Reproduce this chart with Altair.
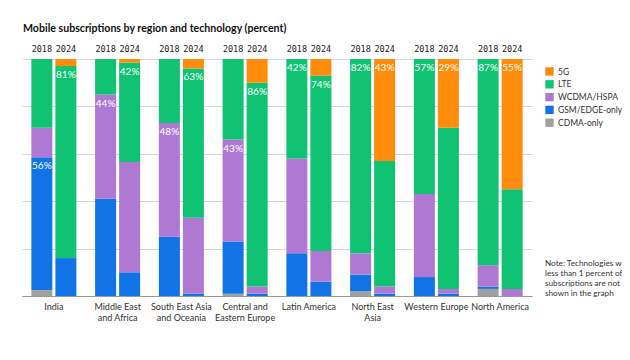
import altair as alt
import pandas as pd

title_text = "Mobile subscriptions by region and technology (percent)"
note_text = "Note: Technologies with\nless than 1 percent of\nsubscriptions are not\nshown in the graph"

regions = ["India", "Middle East\nand Africa", "South East Asia\nand Oceania",
           "Central and\nEastern Europe", "Latin America", "North East\nAsia",
           "Western Europe", "North America"]
years = ["2018", "2024"]

# stacked bottom -> top; one value per bar, ordered region by region (2018, 2024)
techs = ["CDMA-only", "GSM/EDGE-only", "WCDMA/HSPA", "LTE", "5G"]
cdma  = [2.5, 0,   0,  0,    0,  0,  1, 0,   0,  0,  2, 0,   0, 0,   3, 0]
gsm   = [56, 16,  41, 10,   25,  1, 22, 1,  18,  6,  7, 1,   8, 1,   1, 0]
wcdma = [12.5, 0, 44, 46.5, 48, 32, 43, 3,  40, 13,  9, 3,  35, 2,   9, 3]
lte   = [29, 81,  15, 42,   27, 63, 34, 86, 42, 74, 82, 53, 57, 68, 87, 42]
g5    = [0,  3,    0, 1.5,   0,  4,  0, 10,  0,  7,  0, 43,  0, 29,  0, 55]
label_tech = ["GSM/EDGE-only", "LTE", "WCDMA/HSPA", "LTE", "WCDMA/HSPA", "LTE",
              "WCDMA/HSPA", "LTE", "LTE", "LTE", "LTE", "5G", "LTE", "5G", "LTE", "5G"]

legend_order = ["5G", "LTE", "WCDMA/HSPA", "GSM/EDGE-only", "CDMA-only"]
legend_colors = ["#FF8C0A", "#0FC373", "#AF78D2", "#1174E6", "#A0A0A0"]

FONT = "Lato"

rows = []
for i, reg in enumerate(regions):
    for j, yr in enumerate(years):
        k = 2 * i + j
        base = 0.0
        for t, vals in zip(techs, [cdma, gsm, wcdma, lte, g5]):
            v = vals[k]
            if v > 0:
                rows.append(dict(region=reg, year=yr, tech=t, v0=base, v1=base + v,
                                 label=(f"{round(v)}%" if t == label_tech[k] else "")))
            base += v
df = pd.DataFrame(rows)
hdr = pd.DataFrame([dict(region=r, year=y) for r in regions for y in years])

xenc = alt.X("region:N", sort=regions,
             scale=alt.Scale(paddingInner=0.294, paddingOuter=0.147),
             axis=alt.Axis(title=None, ticks=False, tickSize=0, labelPadding=6,
                           labelAngle=0, labelFont=FONT, labelFontSize=9,
                           labelColor="#333333", labelLineHeight=11.5,
                           labelExpr="split(datum.label, '\\n')",
                           domainColor="#9a9a9a", domainWidth=1.2))
xoff = alt.XOffset("year:N", scale=alt.Scale(paddingInner=0.125, paddingOuter=0))

bars = alt.Chart(df).mark_bar().encode(
    x=xenc,
    xOffset=xoff,
    y=alt.Y("v0:Q", scale=alt.Scale(domain=[0, 100], nice=False),
            axis=alt.Axis(title=None, labels=False, ticks=False, domain=False,
                          values=[0, 20, 40, 60, 80, 100], gridColor="#d6d6d6",
                          gridWidth=1)),
    y2="v1:Q",
    color=alt.Color("tech:N",
                    scale=alt.Scale(domain=legend_order, range=legend_colors),
                    legend=alt.Legend(title=None, orient="none", legendX=523, legendY=8,
                                      symbolType="square", symbolSize=70,
                                      symbolStrokeWidth=0, labelFont=FONT,
                                      labelFontSize=8.5, labelColor="#333333",
                                      rowPadding=3.8, labelOffset=4)),
)

labels = alt.Chart(df).transform_filter("datum.label != ''").mark_text(
    baseline="top", dy=4, color="white", font=FONT, fontSize=10
).encode(x=alt.X("region:N", sort=regions), xOffset="year:N", y="v1:Q", text="label:N")

headers = alt.Chart(hdr).mark_text(
    baseline="middle", font="DejaVu Sans Mono", fontSize=8.5, color="#222222"
).encode(x=alt.X("region:N", sort=regions), xOffset="year:N", y=alt.value(-10),
         text="year:N")

title = alt.Chart(pd.DataFrame({"t": [title_text]})).mark_text(
    align="left", baseline="middle", font=FONT, fontSize=10.6, fontWeight="bold",
    color="#111111"
).encode(x=alt.value(1), y=alt.value(-30), text="t:N")

note = alt.Chart(pd.DataFrame({"t": [note_text]})).mark_text(
    align="left", baseline="top", lineBreak="\n", lineHeight=10, font=FONT,
    fontSize=8.2, color="#333333"
).encode(x=alt.value(523), y=alt.value(201), text="t:N")

chart = alt.layer(bars, labels, headers, title, note).properties(
    width=510, height=237,
    padding={"left": 14, "top": 51, "right": 90, "bottom": 40},
    autosize="none",
).configure_view(stroke=None)

chart.save("out.html", embed_options={"renderer": "svg", "actions": False})
